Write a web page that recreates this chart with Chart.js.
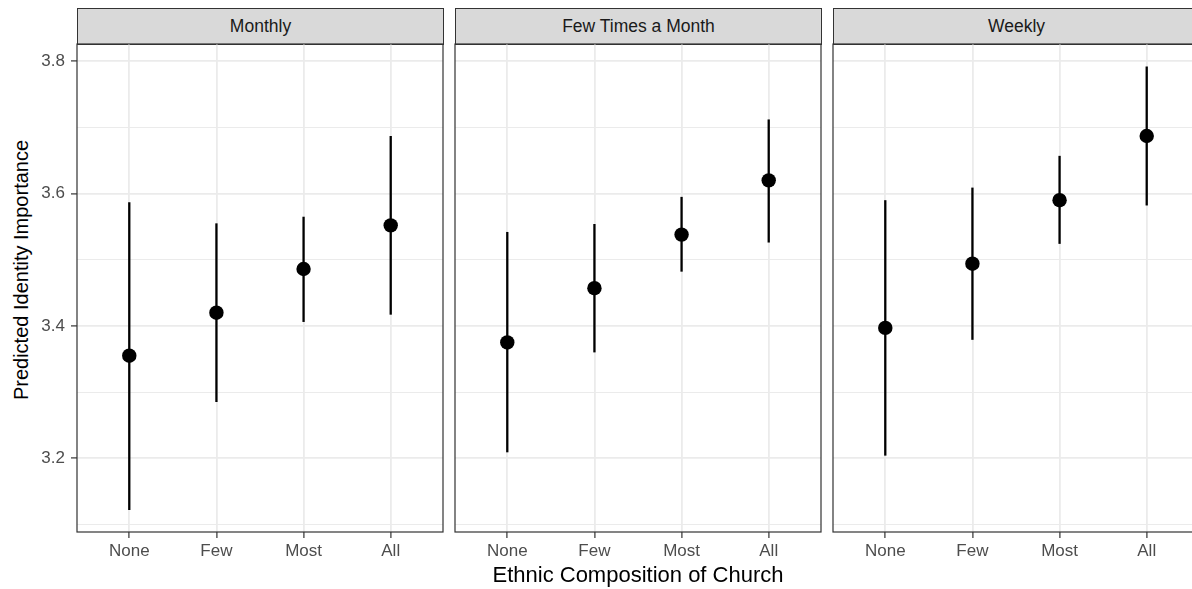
<!DOCTYPE html>
<html>
<head>
<meta charset="utf-8">
<title>Predicted Identity Importance</title>
<script src="https://cdn.jsdelivr.net/npm/chart.js@4.4.1/dist/chart.umd.min.js"></script>
<style>
  html, body { margin: 0; padding: 0; background: #fff; overflow: hidden; }
  body { width: 1192px; height: 589px; position: relative; font-family: "Liberation Sans", Arial, sans-serif; }
  .strip {
    position: absolute; top: 8px; width: 367px; height: 37px; box-sizing: border-box;
    border: 1px solid #333; background: #D9D9D9; color: #1A1A1A;
    font-size: 17.5px; line-height: 35px; text-align: center;
  }
  .panel { position: absolute; top: 40px; }
  #yTitle {
    position: absolute; left: -129px; top: 258px; width: 300px; height: 24px;
    line-height: 24px; font-size: 20px; color: #000; text-align: center;
    white-space: nowrap; transform: rotate(-90deg);
  }
</style>
</head>
<body>
<div class="strip" style="left:77px">Monthly</div>
<div class="strip" style="left:455px">Few Times a Month</div>
<div class="strip" style="left:833px">Weekly</div>
<div id="yTitle">Predicted Identity Importance</div>
<canvas id="panel0" class="panel" width="444" height="549" style="left:0px"></canvas>
<canvas id="panel1" class="panel" width="372" height="549" style="left:450px"></canvas>
<canvas id="panel2" class="panel" width="372" height="549" style="left:828px"></canvas>
<script>
const categories = ['None', 'Few', 'Most', 'All'];
const facetNames = ['Monthly', 'Few Times a Month', 'Weekly'];

// predicted values with lower / upper interval bounds
const monthlyFit = [3.355, 3.420, 3.486, 3.552];
const monthlyLower = [3.122, 3.285, 3.406, 3.417];
const monthlyUpper = [3.587, 3.555, 3.565, 3.687];

const fewTimesFit = [3.375, 3.457, 3.538, 3.620];
const fewTimesLower = [3.209, 3.360, 3.482, 3.526];
const fewTimesUpper = [3.542, 3.554, 3.595, 3.712];

const weeklyFit = [3.397, 3.494, 3.590, 3.687];
const weeklyLower = [3.204, 3.379, 3.524, 3.582];
const weeklyUpper = [3.590, 3.609, 3.657, 3.792];

const yMajorTicks = [3.2, 3.4, 3.6, 3.8];
const yMinorTicks = [3.1, 3.3, 3.5, 3.7];
const yMin = 3.0886;
const yMax = 3.826;

const facets = [
    { name: facetNames[0], fit: monthlyFit, lower: monthlyLower, upper: monthlyUpper },
    { name: facetNames[1], fit: fewTimesFit, lower: fewTimesLower, upper: fewTimesUpper },
    { name: facetNames[2], fit: weeklyFit, lower: weeklyLower, upper: weeklyUpper }
];

const FONT = '"Liberation Sans", Arial, sans-serif';
const GRID = '#EBEBEB';
const DARK = '#333333';

// dark frame around each panel, drawn on top of the grid
const panelBorder = {
    id: 'panelBorder',
    afterDraw(chart) {
        const { ctx, chartArea: a } = chart;
        ctx.save();
        ctx.strokeStyle = DARK;
        ctx.lineWidth = 1.2;
        ctx.strokeRect(a.left, a.top, a.right - a.left, a.bottom - a.top);
        ctx.restore();
    }
};

function isMajor(v) {
    return yMajorTicks.some(t => Math.abs(t - v) < 1e-6);
}

// keep the panel box fixed: no extra room for labels hanging over the edges
function noPadding(s) {
    s.paddingLeft = 0;
    s.paddingRight = 0;
    s.paddingTop = 0;
    s.paddingBottom = 0;
}

function makeChart(canvasId, facet, index) {
    const first = index === 0;
    const middle = index === 1;

    const datasets = [{
        data: facet.fit.map((v, i) => ({ x: i, y: v })),
        backgroundColor: '#000',
        borderColor: '#000',
        pointRadius: 7.2,
        pointHoverRadius: 7.2,
        pointBorderWidth: 0,
        order: 0
    }];

    // one vertical segment per category for the interval
    categories.forEach((c, i) => {
        datasets.push({
            showLine: true,
            data: [{ x: i, y: facet.lower[i] }, { x: i, y: facet.upper[i] }],
            borderColor: '#000',
            borderWidth: 2.3,
            pointRadius: 0,
            pointHoverRadius: 0,
            order: 1
        });
    });

    new Chart(document.getElementById(canvasId), {
        type: 'scatter',
        data: { datasets },
        options: {
            responsive: false,
            animation: false,
            devicePixelRatio: 1,
            layout: {
                autoPadding: false,
                padding: { top: 4, right: 1, bottom: 0, left: first ? 0 : 5 }
            },
            plugins: {
                legend: { display: false },
                tooltip: { enabled: false }
            },
            scales: {
                x: {
                    type: 'linear',
                    min: -0.6,
                    max: 3.6,
                    afterBuildTicks: s => { s.ticks = categories.map((c, i) => ({ value: i })); },
                    afterFit: s => { s.height = 57; noPadding(s); },
                    grid: { color: GRID, lineWidth: 1.8, tickColor: DARK, tickLength: 6, tickWidth: 1.2 },
                    border: { display: false },
                    ticks: {
                        autoSkip: false,
                        maxRotation: 0,
                        padding: 3,
                        color: '#4D4D4D',
                        font: { family: FONT, size: 17 },
                        callback: v => categories[v] ?? ''
                    },
                    title: {
                        display: middle,
                        text: 'Ethnic Composition of Church',
                        color: '#000',
                        font: { family: FONT, size: 22 },
                        padding: 0
                    }
                },
                y: {
                    min: yMin,
                    max: yMax,
                    afterBuildTicks: s => {
                        s.ticks = [...yMinorTicks, ...yMajorTicks].sort((a, b) => a - b).map(v => ({ value: v }));
                    },
                    afterFit: s => { s.width = first ? 77 : 0; noPadding(s); },
                    grid: {
                        color: GRID,
                        lineWidth: c => isMajor(c.tick.value) ? 1.8 : 1,
                        drawTicks: first,
                        tickLength: 6,
                        tickWidth: 1.2,
                        tickColor: c => isMajor(c.tick.value) ? DARK : 'rgba(0,0,0,0)'
                    },
                    border: { display: false },
                    ticks: {
                        display: first,
                        autoSkip: false,
                        padding: 6,
                        color: '#4D4D4D',
                        font: { family: FONT, size: 17 },
                        callback: v => isMajor(v) ? v.toFixed(1) : ''
                    }
                }
            }
        },
        plugins: [panelBorder]
    });
}

facets.forEach((f, i) => makeChart('panel' + i, f, i));
</script>
</body>
</html>
